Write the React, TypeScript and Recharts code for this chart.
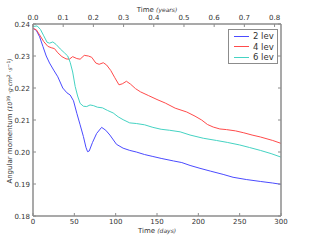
import { LineChart, Line, XAxis, YAxis } from 'recharts';

const blueDays = [0, 4, 8, 12, 16, 20, 25, 30, 36, 41, 45, 49, 53, 57, 61, 64, 66, 68, 72, 77, 83, 88, 93, 101, 109, 117, 125, 135, 145, 155, 170, 180, 190, 202, 215, 230, 242, 258, 275, 290, 300];
const blueVals = [0.2387, 0.238, 0.236, 0.233, 0.23, 0.2278, 0.2256, 0.2235, 0.22, 0.2185, 0.2178, 0.216, 0.2121, 0.2085, 0.2048, 0.2015, 0.2001, 0.2003, 0.203, 0.2058, 0.2077, 0.2068, 0.2053, 0.2024, 0.2012, 0.2005, 0.2, 0.1992, 0.1986, 0.198, 0.1972, 0.1967, 0.1958, 0.1949, 0.194, 0.193, 0.1921, 0.1914, 0.1908, 0.1903, 0.1899];

const redDays = [0, 4, 8, 13, 18, 22, 26, 30, 35, 40, 44, 48, 53, 57, 62, 67, 71, 76, 80, 85, 89, 94, 99, 104, 108, 113, 118, 124, 130, 140, 150, 160, 172, 186, 196, 204, 211, 218, 226, 234, 245, 255, 265, 275, 290, 300];
const redVals = [0.2386, 0.2382, 0.2366, 0.2345, 0.233, 0.2326, 0.2323, 0.231, 0.2298, 0.2291, 0.229, 0.2298, 0.2292, 0.229, 0.2302, 0.23, 0.2296, 0.2278, 0.2274, 0.2279, 0.2272, 0.2255, 0.2232, 0.221, 0.2213, 0.2221, 0.2212, 0.2198, 0.2188, 0.2176, 0.2164, 0.2153, 0.2137, 0.2125, 0.2112, 0.21, 0.2086, 0.2078, 0.2072, 0.207, 0.2066, 0.206, 0.2053, 0.2047, 0.2036, 0.2027];

const cyanDays = [0, 5, 9, 13, 17, 20, 24, 28, 33, 38, 42, 45, 48, 51, 54, 57, 61, 65, 69, 73, 78, 84, 90, 97, 103, 109, 117, 125, 135, 145, 155, 165, 178, 190, 206, 222, 235, 250, 262, 275, 288, 300];
const cyanVals = [0.2392, 0.2394, 0.2383, 0.2363, 0.2343, 0.234, 0.2344, 0.2336, 0.2322, 0.231, 0.23, 0.228, 0.225, 0.2205, 0.2175, 0.2152, 0.2143, 0.2142, 0.2147, 0.2145, 0.214, 0.2138, 0.213, 0.2122, 0.211, 0.2101, 0.2091, 0.2089, 0.2085, 0.2077, 0.2071, 0.2068, 0.2063, 0.2053, 0.2043, 0.2036, 0.203, 0.2022, 0.2014, 0.2005, 0.1995, 0.1984];

const dayTicks = [0, 50, 100, 150, 200, 250, 300];
const yearTicks = [0, 0.1, 0.2, 0.3, 0.4, 0.5, 0.6, 0.7, 0.8];
const valueTicks = [0.18, 0.19, 0.2, 0.21, 0.22, 0.23, 0.24];
const DAYS_PER_YEAR = 365.25;

const series = [
  { name: '2 lev', color: '#4b4bff', days: blueDays, vals: blueVals },
  { name: '4 lev', color: '#ff4b4b', days: redDays, vals: redVals },
  { name: '6 lev', color: '#45d3c3', days: cyanDays, vals: cyanVals },
];

const FONT = '"DejaVu Sans", sans-serif';
const SPINE = '#8c8c8c';
const INK = '#333';

function BottomTick({ x, y, payload }: any) {
  return (
    <g>
      <line x1={x} x2={x} y1={y} y2={y - 3} stroke={SPINE} />
      <text x={x} y={y} dy={8} textAnchor="middle" fontSize={7} fill={INK} fontFamily={FONT}>
        {payload.value}
      </text>
    </g>
  );
}

function TopTick({ x, y, payload }: any) {
  return (
    <g>
      <line x1={x} x2={x} y1={y} y2={y + 3} stroke={SPINE} />
      <text x={x} y={y} dy={-4.5} textAnchor="middle" fontSize={7} fill={INK} fontFamily={FONT}>
        {payload.value.toFixed(1)}
      </text>
    </g>
  );
}

function LeftTick({ x, y, payload }: any) {
  return (
    <g>
      <line x1={x} x2={x + 3} y1={y} y2={y} stroke={SPINE} />
      <text x={x - 3} y={y} dy={2.5} textAnchor="end" fontSize={7} fill={INK} fontFamily={FONT}>
        {payload.value.toFixed(2)}
      </text>
    </g>
  );
}

function RightTick({ x, y }: any) {
  return <line x1={x} x2={x - 3} y1={y} y2={y} stroke={SPINE} />;
}

function BottomTitle({ viewBox }: any) {
  const cx = viewBox.x + viewBox.width / 2;
  return (
    <text x={cx} y={233} textAnchor="middle" fontSize={7} fill={INK} fontFamily={FONT}>
      Time <tspan fontStyle="italic" fontSize={6}>(days)</tspan>
    </text>
  );
}

function TopTitle({ viewBox }: any) {
  const cx = viewBox.x + viewBox.width / 2;
  return (
    <text x={cx} y={11.5} textAnchor="middle" fontSize={7} fill={INK} fontFamily={FONT}>
      Time <tspan fontStyle="italic" fontSize={6}>(years)</tspan>
    </text>
  );
}

function LeftTitle() {
  return (
    <text
      x={12}
      y={121}
      transform="rotate(-90 12 121)"
      textAnchor="middle"
      fontSize={7}
      fill={INK}
      fontFamily={FONT}
    >
      Angular momentum
      <tspan fontStyle="italic" fontSize={6}> (10</tspan>
      <tspan fontSize={4.5} dy={-2.5}>39</tspan>
      <tspan fontStyle="italic" fontSize={6} dy={2.5}> ·g·cm</tspan>
      <tspan fontSize={4.5} dy={-2.5}>2</tspan>
      <tspan fontStyle="italic" fontSize={6} dy={2.5}> ·s</tspan>
      <tspan fontSize={4.5} dy={-2.5}>−1</tspan>
      <tspan fontStyle="italic" fontSize={6} dy={2.5}>)</tspan>
    </text>
  );
}

function LegendBox() {
  return (
    <div
      style={{
        position: 'absolute',
        left: 228,
        top: 29,
        width: 48,
        height: 32,
        border: `1.5px solid ${SPINE}`,
        background: '#fff',
        fontFamily: FONT,
        fontSize: 8.5,
        color: INK,
        padding: '1px 0 0 0',
      }}
    >
      {series.map(s => (
        <div key={s.name} style={{ display: 'flex', alignItems: 'center', height: 10.5 }}>
          <div style={{ width: 15, height: 1, background: s.color, marginLeft: 5, marginRight: 4 }} />
          <span>{s.name}</span>
        </div>
      ))}
    </div>
  );
}

export default function App() {
  const lines = series.map(s => ({
    ...s,
    data: s.days.map((d, i) => ({ t: d, v: s.vals[i] })),
  }));

  return (
    <div style={{ position: 'absolute', left: 0, top: 0, width: 313, height: 240, background: '#fff' }}>
      <LineChart width={313} height={240} margin={{ top: 0, right: 0, bottom: 0, left: 0 }}>
        <XAxis
          xAxisId="days"
          dataKey="t"
          type="number"
          domain={[0, 300]}
          ticks={dayTicks}
          allowDataOverflow
          orientation="bottom"
          height={24}
          tickSize={0}
          tickMargin={0}
          tick={<BottomTick />}
          axisLine={{ stroke: SPINE, strokeWidth: 1.5 }}
          label={{ content: (p: any) => <BottomTitle {...p} /> }}
        />
        <XAxis
          xAxisId="years"
          dataKey="t"
          type="number"
          domain={[0, 300 / DAYS_PER_YEAR]}
          ticks={yearTicks}
          allowDataOverflow
          orientation="top"
          height={24}
          tickSize={0}
          tickMargin={0}
          tick={<TopTick />}
          axisLine={{ stroke: SPINE, strokeWidth: 1.5 }}
          label={{ content: (p: any) => <TopTitle {...p} /> }}
        />
        <YAxis
          yAxisId="left"
          dataKey="v"
          type="number"
          domain={[0.18, 0.24]}
          ticks={valueTicks}
          allowDataOverflow
          orientation="left"
          width={33}
          tickSize={0}
          tickMargin={0}
          tick={<LeftTick />}
          axisLine={{ stroke: SPINE, strokeWidth: 1.5 }}
          label={{ content: () => <LeftTitle /> }}
        />
        <YAxis
          yAxisId="right"
          type="number"
          domain={[0.18, 0.24]}
          ticks={valueTicks}
          allowDataOverflow
          orientation="right"
          width={32}
          tickSize={0}
          tickMargin={0}
          tick={<RightTick />}
          axisLine={{ stroke: SPINE, strokeWidth: 1.5 }}
        />
        {lines.map(s => (
          <Line
            key={s.name}
            data={s.data}
            xAxisId="days"
            yAxisId="left"
            dataKey="v"
            name={s.name}
            type="linear"
            stroke={s.color}
            strokeWidth={1}
            dot={false}
            isAnimationActive={false}
          />
        ))}
      </LineChart>
      <LegendBox />
    </div>
  );
}
